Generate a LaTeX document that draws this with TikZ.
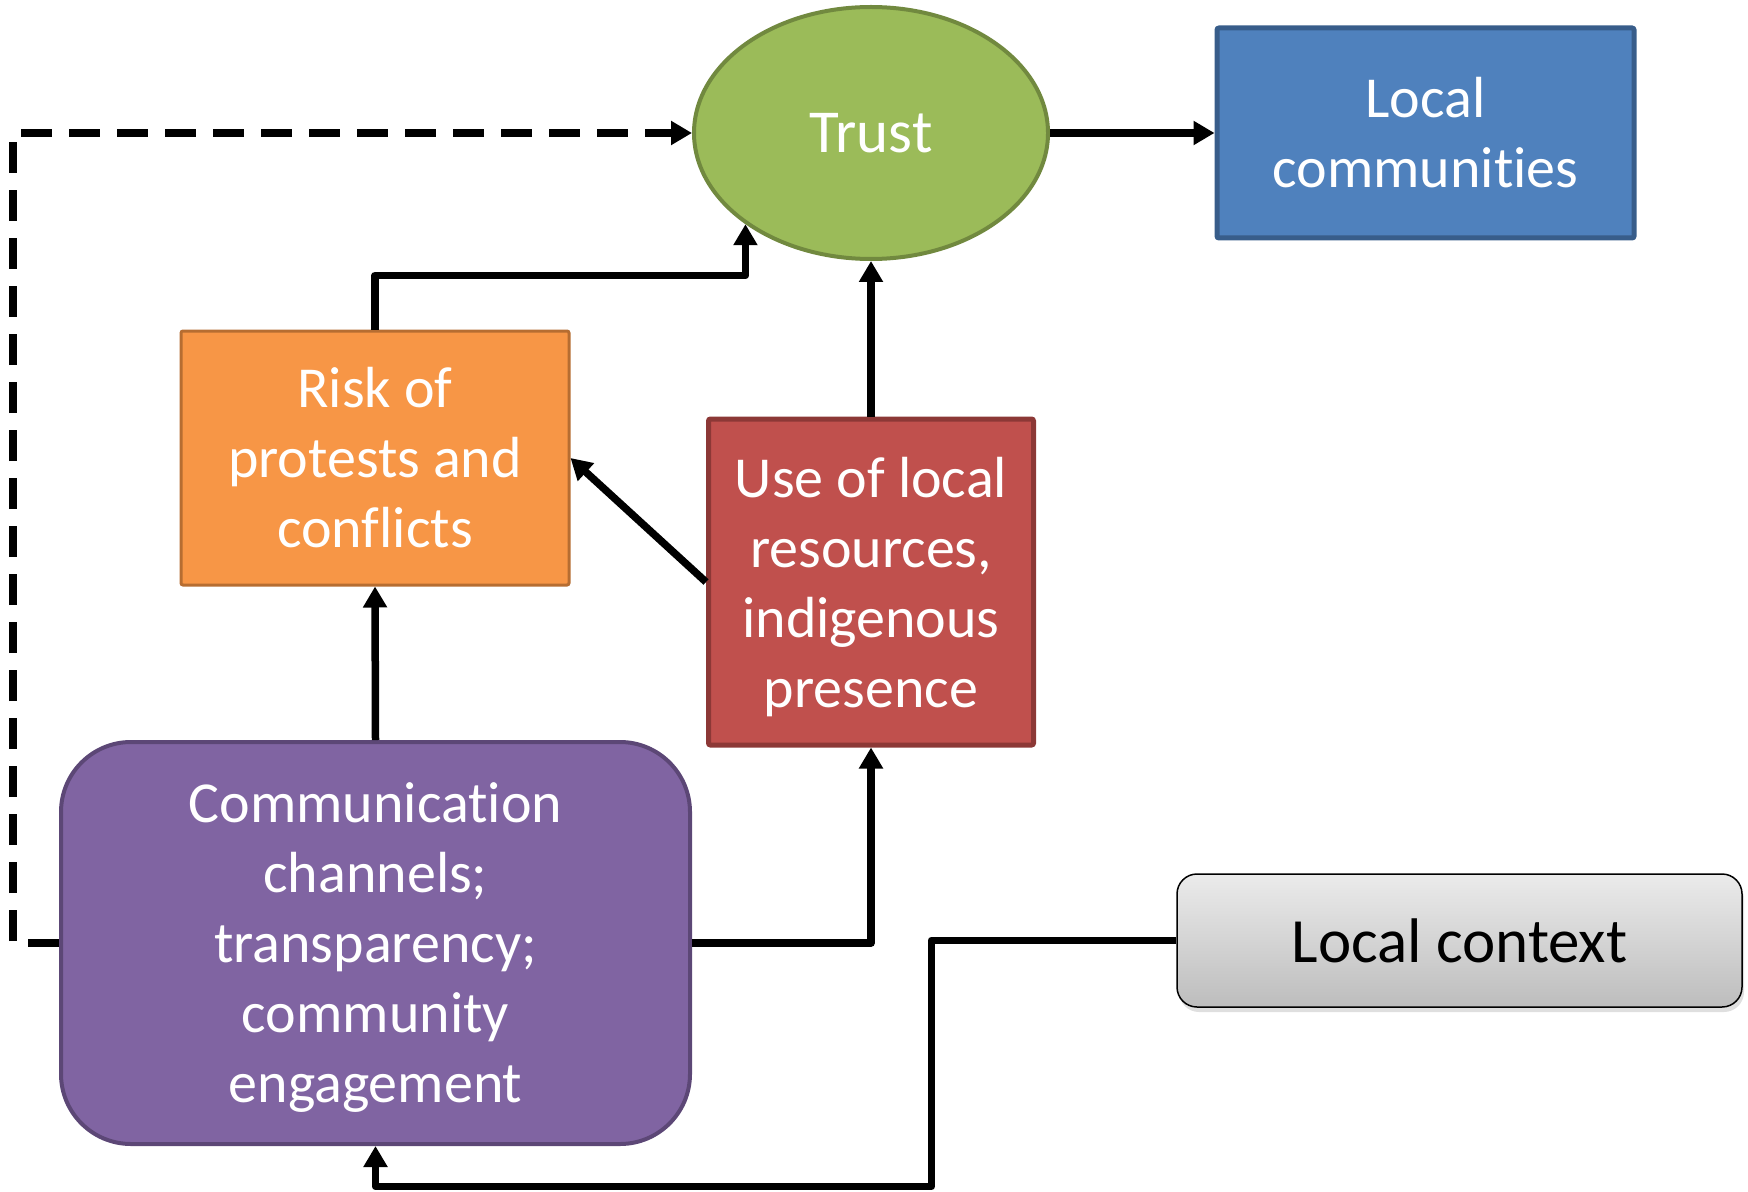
\documentclass[tikz,border=0pt]{standalone}
\usepackage{fontspec}
\setmainfont[Ligatures={NoCommon}]{Carlito}
\usetikzlibrary{arrows.meta,shapes.geometric,shadows}
\definecolor{trustfill}{HTML}{9BBB59}
\definecolor{trustdraw}{HTML}{71893F}
\definecolor{lcfill}{HTML}{4F81BD}
\definecolor{lcdraw}{HTML}{385D8A}
\definecolor{riskfill}{HTML}{F79646}
\definecolor{riskdraw}{HTML}{B66D31}
\definecolor{usefill}{HTML}{C0504D}
\definecolor{usedraw}{HTML}{8C3836}
\definecolor{commfill}{HTML}{8064A2}
\definecolor{commdraw}{HTML}{5C4776}
\definecolor{ctxtop}{HTML}{EBEBEB}
\definecolor{ctxbot}{HTML}{BDBDBD}
\begin{document}
\begin{tikzpicture}[x=0.5pt,y=-0.5pt,
  box/.style={draw, inner sep=0pt, align=center, text=white,
    font=\fontsize{29}{35}\selectfont},
  conn/.style={line width=3.75pt, line join=round,
    -{Triangle[width=11.5pt,length=10.5pt]}},
  dconn/.style={conn, dash pattern=on 15.5pt off 8.5pt}]
\useasboundingbox (0,0) rectangle (1748,1192);

\node[box, ellipse, fill=trustfill, draw=trustdraw, line width=2pt,
  minimum width=177pt, minimum height=126pt,
  font=\fontsize{30.5}{36}\selectfont] (trust) at (871,133) {Trust};
\node[box, rectangle, fill=lcfill, draw=lcdraw, line width=2.5pt,
  rounded corners=1pt, minimum width=208.5pt, minimum height=105pt]
  (lc) at (1425.5,133) {Local\\communities};
\node[box, rectangle, fill=riskfill, draw=riskdraw, line width=1.5pt,
  rounded corners=1pt, minimum width=194pt, minimum height=127pt]
  (risk) at (375,458) {Risk of\\protests and\\conflicts};
\node[box, rectangle, fill=usefill, draw=usedraw, line width=2.5pt,
  rounded corners=1pt, minimum width=162.5pt, minimum height=163pt]
  (use) at (871,582) {\raisebox{-3pt}[\height][\depth]{\begin{tabular}{@{}c@{}}Use of local\\resources,\\indigenous\\presence\end{tabular}}};
\node[box, rectangle, fill=commfill, draw=commdraw, line width=2pt,
  rounded corners=35pt, minimum width=314.5pt, minimum height=201pt]
  (comm) at (375.5,943) {\raisebox{-2.5pt}[\height][\depth]{\begin{tabular}{@{}c@{}}Communication\\channels;\\transparency;\\community\\engagement\end{tabular}}};
\node[box, rectangle, text=black, draw=black, line width=0.75pt,
  rounded corners=10pt, top color=ctxtop, bottom color=ctxbot,
  drop shadow={opacity=0.25, shadow xshift=1pt, shadow yshift=-2.5pt},
  minimum width=282.5pt, minimum height=66.5pt,
  font=\fontsize{31.5}{38}\selectfont] (ctx) at (1459.5,940.5) {Local context};

\draw[conn] (trust.east) -- (lc.west);
\draw[conn] (risk.north) -- ++(0,-54) -| (trust.216);
\draw[conn] (use.north) -- (trust.south);
\draw[conn] (use.west) -- (risk.east);
\draw[conn] (comm.north) -- (risk.south);
\draw[conn] (comm.east) -| (use.south);
\draw[conn] (ctx.west) -- ++(-245,0) -- ++(0,246) -| (comm.south);
\draw[dconn] (comm.west) -- ++(-46,0) |- (trust.west);
\end{tikzpicture}
\end{document}
